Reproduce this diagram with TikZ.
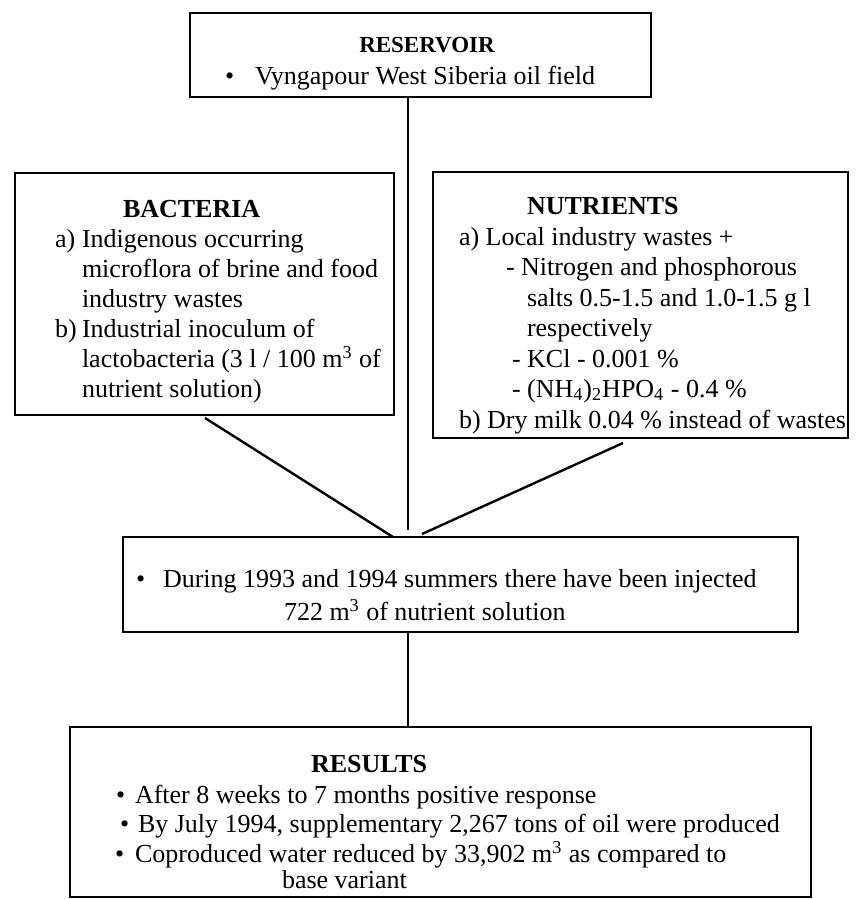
\documentclass[tikz,border=0pt]{standalone}
\usepackage{fontspec}
\setmainfont{Liberation Serif}
\begin{document}
\begin{tikzpicture}[x=0.5pt,y=-0.5pt,
  box/.style={draw, line width=1.3pt, inner sep=0pt, outer sep=0pt},
  txt/.style={anchor=base west, inner sep=0pt, outer sep=0pt, font=\fontsize{13pt}{15pt}\selectfont},
  head/.style={txt, font=\fontsize{13pt}{15pt}\selectfont\bfseries},
  link/.style={line width=1.2pt}]
\useasboundingbox (0,0) rectangle (857,899);

% reservoir
\node[head, anchor=base, font=\fontsize{11.5pt}{14pt}\selectfont\bfseries] (resh) at (427,53) {RESERVOIR};
\node[txt] (resb) at (225,85) {•};
\node[txt] (res1) at (255,85) {Vyngapour West Siberia oil field};

% bacteria
\node[head] (bacth) at (123,217) {BACTERIA};
\node[txt] (bacta) at (55,247) {a)};
\node[txt] (bact1) at (82,247) {Indigenous occurring};
\node[txt] (bact2) at (82,277) {microflora of brine and food};
\node[txt] (bact3) at (82,307) {industry wastes};
\node[txt] (bactb) at (55,337) {b)};
\node[txt] (bact4) at (82,337) {Industrial inoculum of};
\node[txt] (bact5) at (82,367) {lactobacteria (3 l / 100 m\textsuperscript{3} of};
\node[txt] (bact6) at (82,397) {nutrient solution)};

% nutrients
\node[head] (nutrh) at (527,214) {NUTRIENTS};
\node[txt] (nutr1) at (459,245) {a) Local industry wastes +};
\node[txt] (nutr2) at (506,275) {- Nitrogen and phosphorous};
\node[txt] (nutr3) at (527,306) {salts 0.5-1.5 and 1.0-1.5 g l};
\node[txt] (nutr4) at (527,336) {respectively};
\node[txt] (nutr5) at (512,367) {- KCl - 0.001 \%};
\node[txt] (nutr6) at (512,397) {- (NH\textsubscript{4})\textsubscript{2}HPO\textsubscript{4} - 0.4 \%};
\node[txt] (nutr7) at (459,428) {b) Dry milk 0.04 \% instead of wastes};

% injection
\node[txt] (midb) at (136,587) {•};
\node[txt] (mid1) at (163,587) {During 1993 and 1994 summers there have been injected};
\node[txt] (mid2) at (284,620) {722 m\textsuperscript{3} of nutrient solution};

% results
\node[head] (resuh) at (311,772) {RESULTS};
\node[txt] (resub1) at (116,803) {•};
\node[txt] (resu1) at (135,803) {After 8 weeks to 7 months positive response};
\node[txt] (resub2) at (120,832) {•};
\node[txt] (resu2) at (138,832) {By July 1994, supplementary 2,267 tons of oil were produced};
\node[txt] (resub3) at (115,862) {•};
\node[txt] (resu3) at (135,862) {Coproduced water reduced by 33,902 m\textsuperscript{3} as compared to};
\node[txt] (resu4) at (282,888) {base variant};

% frames
\node[box, minimum width=230.5pt, minimum height=42pt] (res) at (420.5,55) {};
\node[box, minimum width=189.5pt, minimum height=121pt] (bact) at (204.5,294) {};
\node[box, minimum width=207.5pt, minimum height=133pt] (nutr) at (640.5,305) {};
\node[box, minimum width=337.5pt, minimum height=47.5pt] (mid) at (460.5,584.5) {};
\node[box, minimum width=370.5pt, minimum height=85pt] (resu) at (440.5,812) {};

% connector ends
\coordinate (resout) at (res.south -| 408,0);
\coordinate (midin) at (408,530);
\coordinate (bactout) at (205,418);
\coordinate (midinL) at (mid.north -| 393,0);
\coordinate (nutrout) at (623,443);
\coordinate (midinR) at (422,534);
\coordinate (midout) at (mid.south -| 408,0);
\coordinate (resuin) at (resu.north -| 408,0);

\draw[link] (resout) -- (midin);
\draw[link] (bactout) -- (midinL);
\draw[link] (nutrout) -- (midinR);
\draw[link] (midout) -- (resuin);
\end{tikzpicture}
\end{document}
